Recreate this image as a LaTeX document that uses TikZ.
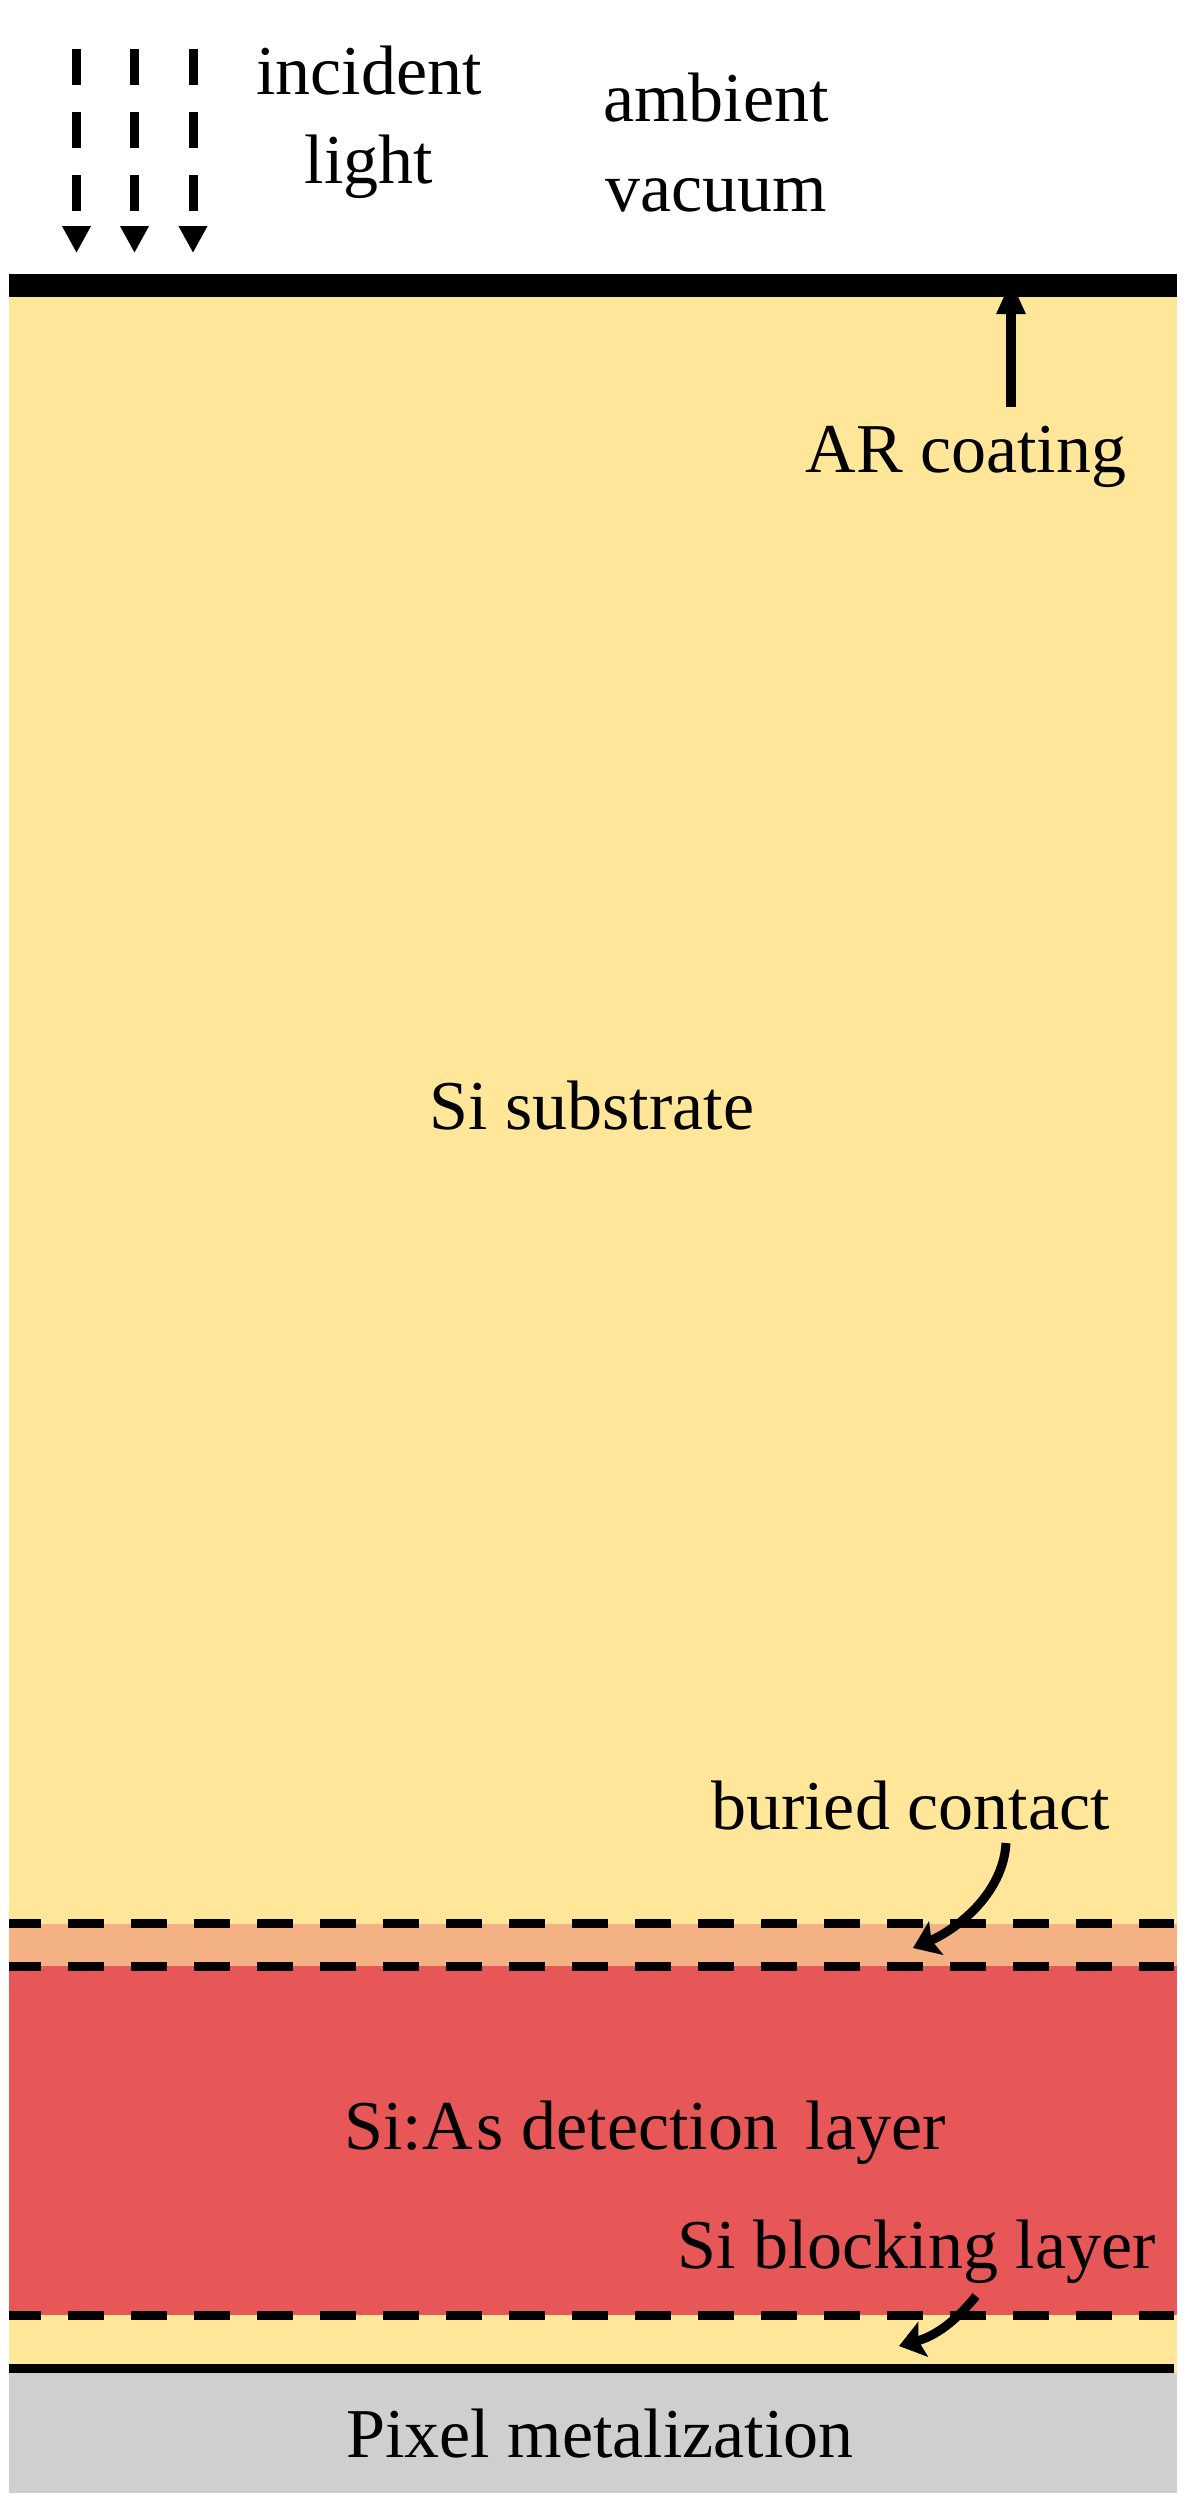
\documentclass[tikz,border=0pt]{standalone}
\usepackage{fontspec}
\newfontfamily\tnr{Liberation Serif}
\usetikzlibrary{arrows.meta}
\definecolor{subY}{HTML}{FFE699}
\definecolor{contO}{HTML}{F4B183}
\definecolor{detR}{HTML}{E85757}
\definecolor{metG}{HTML}{D0CECE}
\begin{document}
\begin{tikzpicture}[x=0.5pt,y=-0.5pt,
  lbl/.style={font=\tnr\fontsize{35}{42}\selectfont, inner sep=0pt, anchor=base},
  dashline/.style={line width=4.5pt, dash pattern=on 18pt off 13.5pt, dash phase=2pt},
  lightarrow/.style={line width=4.5pt, dash pattern=on 18pt off 13.5pt, -{Triangle[length=13.5pt,width=13.5pt]}},
  pointer/.style={line width=4.5pt, -{Stealth[length=12.5pt,width=18pt,inset=2.5pt]}},
  uparrow/.style={line width=5pt, -{Triangle[length=17pt,width=13.5pt]}}
]
\useasboundingbox (0,0) rectangle (1200,2517);
\fill[white] (0,0) rectangle (1200,2517);
% layers
\fill[subY] (9,274) rectangle (1177,2373);
\fill[contO] (9,1923.5) rectangle (1177,1966);
\fill[detR] (9,1966) rectangle (1177,2315);
\fill[metG] (9,2373) rectangle (1177,2493);
% AR coating line and bottom solid line
\fill[black] (9,274) rectangle (1177,297);
\fill[black] (9,2364) rectangle (1174,2373);
% dashed interfaces
\draw[dashline] (9,1923.5) -- (1174,1923.5);
\draw[dashline] (9,1966) -- (1174,1966);
\draw[dashline] (9,2315) -- (1174,2315);
% incident light arrows
\coordinate (l1s) at (76.5,49);  \coordinate (l1t) at (76.5,253);
\coordinate (l2s) at (134.5,49); \coordinate (l2t) at (134.5,253);
\coordinate (l3s) at (193,49);   \coordinate (l3t) at (193,253);
\draw[lightarrow] (l1s) -- (l1t);
\draw[lightarrow] (l2s) -- (l2t);
\draw[lightarrow] (l3s) -- (l3t);
% labels
\node[lbl] (incident) at (369,94) {incident};
\node[lbl] (light) at (369,183) {light};
\node[lbl] (ambient) at (716,121) {ambient};
\node[lbl] (vacuum) at (716,211) {vacuum};
\node[lbl] (ar) at (966,472) {AR coating};
\node[lbl] (sub) at (592,1129) {Si substrate};
\node[lbl,anchor=base east] (buried) at (1110,1829) {buried contact};
\node[lbl] (det) at (645,2149) {Si:A\kern2pt s detection\hspace{5pt} layer};
\node[lbl,anchor=base east] (block) at (1156,2268) {Si blocking layer};
\node[lbl] (pix) at (600,2457) {Pixel metalization};
% pointer arrows
\coordinate (arS) at (1011,407); \coordinate (arT) at (1011,280);
\draw[uparrow] (arS) -- (arT);
\coordinate (bcS) at (1006,1843); \coordinate (bcT) at (913,1948);
\draw[pointer] (bcS) .. controls (1003,1895) and (955,1930) .. (bcT);
\coordinate (blS) at (976,2296); \coordinate (blT) at (899,2346);
\draw[pointer] (blS) .. controls (955,2322) and (935,2336) .. (blT);
\end{tikzpicture}
\end{document}
